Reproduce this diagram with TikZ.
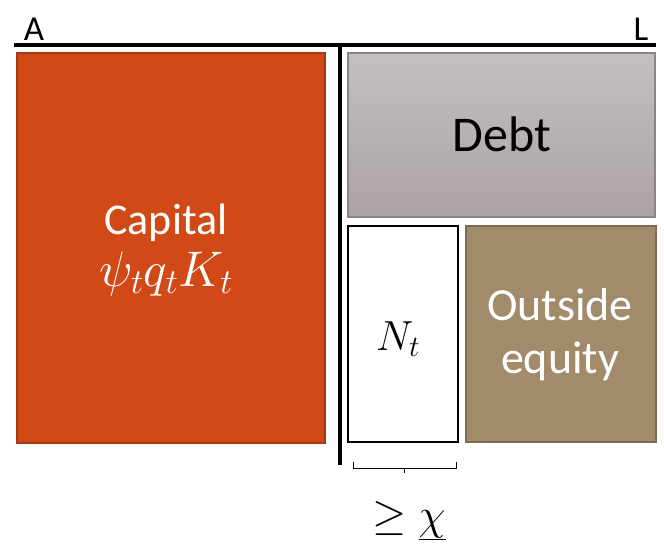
\documentclass[tikz,border=0pt]{standalone}
\usepackage{fix-cm}
\usepackage{fontspec}
\setmainfont{Carlito}
\definecolor{capfill}{RGB}{209,73,22}
\definecolor{capline}{RGB}{168,56,18}
\definecolor{debttop}{RGB}{197,191,191}
\definecolor{debtbot}{RGB}{171,163,163}
\definecolor{debtline}{RGB}{140,132,132}
\definecolor{eqfill}{RGB}{161,139,106}
\definecolor{eqline}{RGB}{125,108,82}
\tikzset{
  box/.style={rectangle, inner sep=0pt, line width=1.5pt},
  bigtext/.style={font=\fontsize{44}{53}\selectfont, inner sep=0pt, anchor=base},
  axis/.style={line width=3.5pt},
}
\begin{document}
\begin{tikzpicture}[x=1pt,y=-1pt]
\useasboundingbox (0,0) rectangle (664,556);
% T-account lines
\coordinate (tl) at (14,45);
\coordinate (tr) at (656,45);
\coordinate (vt) at (340,45);
\coordinate (vb) at (340,465);
\draw[axis] (tl) -- (tr);
\draw[axis] (vt) -- (vb);
\node[font=\fontsize{35}{42}\selectfont, anchor=base, inner sep=0pt] (A) at (34,41) {A};
\node[font=\fontsize{35}{42}\selectfont, anchor=base, inner sep=0pt] (L) at (641,41) {L};
% boxes
\node[box, draw=capline, fill=capfill, minimum width=308, minimum height=390] (cap) at (171,248) {};
\node[box, draw=debtline, top color=debttop, bottom color=debtbot, minimum width=307, minimum height=164] (debt) at (501.5,135) {};
\node[box, draw=black, fill=white, line width=2pt, minimum width=110, minimum height=216] (nt) at (403,334) {};
\node[box, draw=eqline, fill=eqfill, minimum width=190, minimum height=216] (eq) at (561,334) {};
% texts
\node[bigtext, text=white] (capt) at (166,235) {Capital};
\node[bigtext, text=white, font=\fontsize{50}{60}\selectfont] (capm) at (166,286) {$\psi_t q_t K_t$};
\node[bigtext, font=\fontsize{50}{60}\selectfont] (debtt) at (502,152) {Debt};
\node[bigtext, font=\fontsize{42}{50}\selectfont] (ntt) at (398,350) {$N_t$};
\node[bigtext, text=white, font=\fontsize{46}{55}\selectfont] (eqt1) at (560,320) {Outside};
\node[bigtext, text=white, font=\fontsize{46}{55}\selectfont] (eqt2) at (560,373) {equity};
% brace
\coordinate (b1) at (353,462);
\coordinate (b2) at (353,468);
\coordinate (b3) at (456,468);
\coordinate (b4) at (456,462);
\coordinate (bm) at (404.5,468);
\coordinate (bt) at (404.5,473);
\draw[line width=1pt] (b1) -- (b2) -- (b3) -- (b4);
\draw[line width=1pt] (bm) -- (bt);
\node[bigtext, font=\fontsize{44}{53}\selectfont] (chi) at (409,529) {$\geq \underline{\chi}$};
\end{tikzpicture}
\end{document}
